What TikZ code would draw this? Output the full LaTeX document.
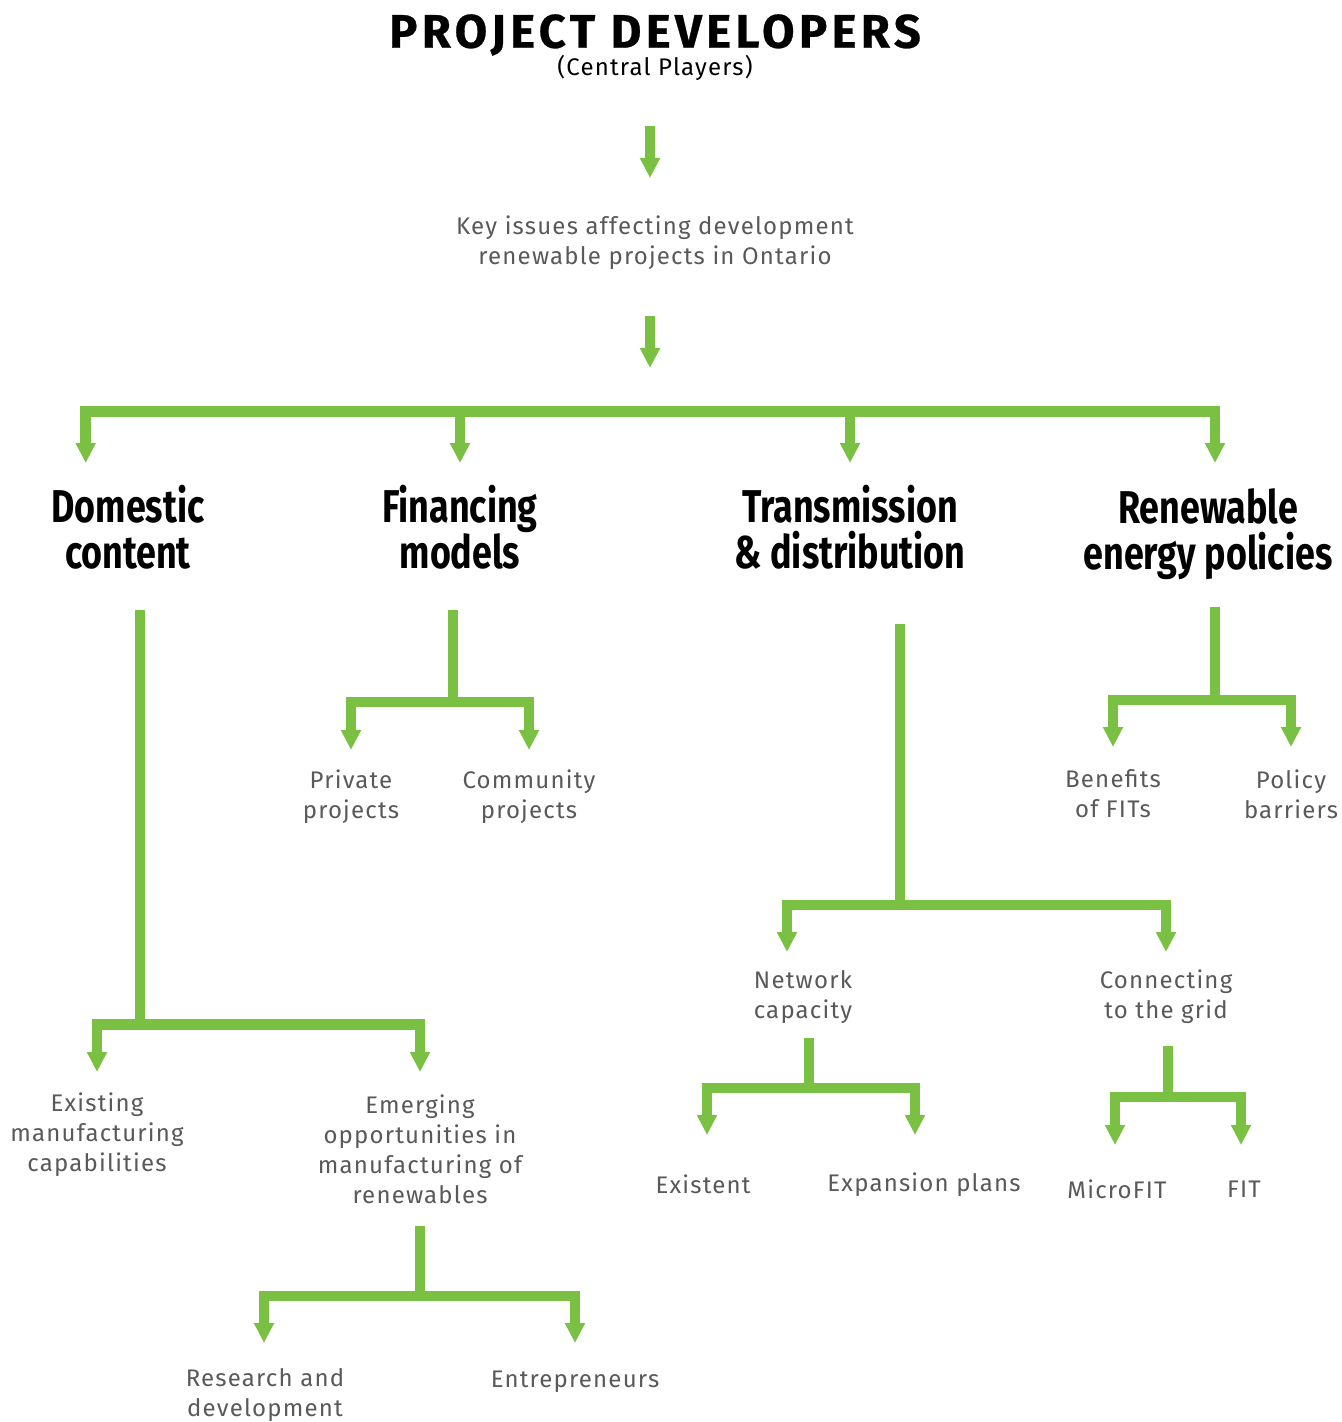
\documentclass[tikz,border=0pt]{standalone}
\usepackage{fontspec}
\setmainfont{Fira Sans}[LetterSpace=5]
\newfontfamily\headfont[FakeStretch=0.78]{Fira Sans}
\newfontfamily\titlefont[LetterSpace=9.5,FakeBold=0.6]{Fira Sans}
\usepackage{xcolor}
\usetikzlibrary{arrows.meta,positioning}
\definecolor{leafgreen}{HTML}{7AC143}
\definecolor{textgrey}{HTML}{58595B}

\begin{document}
\begin{tikzpicture}[x=0.5pt, y=-0.5pt,
  leaf/.style={align=center, text=textgrey, inner sep=0pt,
    font=\fontsize{12}{15}\selectfont},
  head/.style={align=center, inner sep=0pt,
    font=\headfont\bfseries\fontsize{23}{23}\selectfont},
  link/.style={draw=leafgreen, line width=5.25pt,
    -{Triangle[width=9.5pt,length=10pt]}}
]
  \useasboundingbox (0,0) rectangle (1341,1422);

  % Title and the key issues line
  \node[inner sep=0pt, font=\titlefont\bfseries\fontsize{23.5}{24}\selectfont] (title) at (655,35) {PROJECT DEVELOPERS};
  \node[inner sep=0pt, font=\fontsize{12}{14}\selectfont] (central) at (655,68) {(Central Players)};
  \node[leaf] (issues) at (655,243) {Key issues affecting development\\renewable projects in Ontario};

  % Four main headings
  \node[head] (dc) at (128,527) {Domestic\\content};
  \node[head] (fm) at (460,527) {Financing\\models};
  \node[head] (td) at (850,527) {Transmission\\\& distribution};
  \node[head] (rp) at (1208,534) {Renewable\\energy policies};

  % Leaves
  \node[leaf] (pp) at (351,797) {Private\\projects};
  \node[leaf] (cp) at (529,797) {Community\\projects};
  \node[leaf] (bf) at (1113,794) {Benefits\\of FITs};
  \node[leaf] (pb) at (1291,794) {Policy\\barriers};
  \node[leaf] (nc) at (803,997) {Network\\capacity};
  \node[leaf] (cg) at (1166,997) {Connecting\\to the grid};
  \node[leaf] (ex) at (97,1135) {Existing\\manufacturing\\capabilities};
  \node[leaf] (em) at (420,1149) {Emerging\\opportunities in\\manufacturing of\\renewables};
  \node[leaf] (xs) at (703,1184) {Existent};
  \node[leaf] (xp) at (924,1185) {Expansion plans};
  \node[leaf] (mf) at (1117,1189) {MicroFIT};
  \node[leaf] (ft) at (1244,1189) {FIT};
  \node[leaf] (rd) at (265,1395) {Research and\\development};
  \node[leaf] (en) at (575,1382) {Entrepreneurs};

  % Stem and junction points
  \coordinate (a1) at (650,126);   \coordinate (a1t) at (650,178);
  \coordinate (a2) at (650,316);   \coordinate (a2t) at (650,368);
  \coordinate (bar) at (650,411.5);
  \coordinate (dc-s) at (140,610);  \coordinate (dc-j) at (140,1024.5);
  \coordinate (em-s) at (420,1226); \coordinate (em-j) at (420,1296);
  \coordinate (fm-s) at (453,610);  \coordinate (fm-j) at (453,702);
  \coordinate (td-s) at (900,624);  \coordinate (td-j) at (900,905);
  \coordinate (nc-s) at (809,1038); \coordinate (nc-j) at (809,1088);
  \coordinate (cg-s) at (1168,1046); \coordinate (cg-j) at (1168,1097);
  \coordinate (rp-s) at (1215,607); \coordinate (rp-j) at (1215,700);

  % Top arrows
  \draw[link] (a1) -- (a1t);
  \draw[link] (a2) -- (a2t);

  % Main bar down to the headings
  \draw[link] (bar) -| (85.7,463);
  \draw[link] (bar) -| (460,463);
  \draw[link] (bar) -| (850,463);
  \draw[link] (bar) -| (1215,463);

  % Domestic content
  \draw[link] (dc-s) -- (dc-j) -| (97,1072);
  \draw[link] (dc-j) -| (420,1072);
  \draw[link] (em-s) -- (em-j) -| (264,1343);
  \draw[link] (em-j) -| (575,1343);

  % Financing models
  \draw[link] (fm-s) -- (fm-j) -| (351,750);
  \draw[link] (fm-j) -| (529,750);

  % Transmission & distribution
  \draw[link] (td-s) -- (td-j) -| (787,952);
  \draw[link] (td-j) -| (1166,952);
  \draw[link] (nc-s) -- (nc-j) -| (707,1135);
  \draw[link] (nc-j) -| (915,1135);
  \draw[link] (cg-s) -- (cg-j) -| (1115,1145);
  \draw[link] (cg-j) -| (1241,1145);

  % Renewable energy policies
  \draw[link] (rp-s) -- (rp-j) -| (1113,747);
  \draw[link] (rp-j) -| (1291,747);
\end{tikzpicture}
\end{document}
